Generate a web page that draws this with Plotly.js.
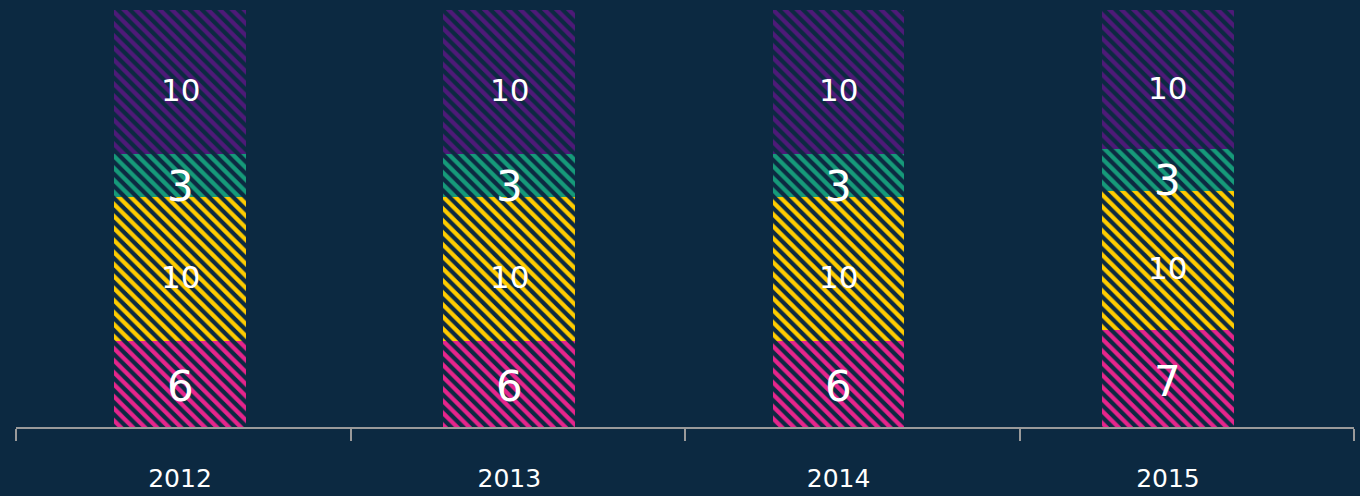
<!DOCTYPE html>
<html>
<head>
<meta charset="utf-8">
<script src="https://cdn.plot.ly/plotly-3.0.1.min.js"></script>
<style>
html,body{margin:0;padding:0;background:#0c2941;}
#chart{width:1360px;height:496px;}
</style>
</head>
<body>
<div id="chart"></div>
<script>
const years = ["2012", "2013", "2014", "2015"];
const xpos = [0, 1, 2, 3];
const pinkValues = [6, 6, 6, 7];
const yellowValues = [10, 10, 10, 10];
const tealValues = [3, 3, 3, 3];
const purpleValues = [10, 10, 10, 10];
const boundaryTicks = [0, 1, 2, 3, 4];

const BG = "#0c2941";
const FONT = "'DejaVu Sans', sans-serif";
const seriesDefs = [
  {vals: pinkValues, color: "#e6258c", size: 42, shift: -3},
  {vals: yellowValues, color: "#ffcc00", size: 31, shift: -8},
  {vals: tealValues, color: "#169a7a", size: 42, shift: -11},
  {vals: purpleValues, color: "#4e1a78", size: 31, shift: -8}
];

const traces = seriesDefs.map(s => ({
  type: "bar",
  x: xpos,
  y: s.vals,
  marker: {
    color: BG,
    line: {width: 0},
    pattern: {shape: "\\", fgcolor: s.color, bgcolor: BG, fgopacity: 1, size: 8.5, solidity: 0.5, fillmode: "replace"}
  },
  hoverinfo: "none",
  showlegend: false
}));

// empty trace so the boundary-tick axis gets drawn
traces.push({
  type: "scatter",
  x: [],
  y: [],
  xaxis: "x2",
  yaxis: "y",
  mode: "markers",
  hoverinfo: "skip",
  showlegend: false
});

// value labels at segment middles (in percent of each stacked bar)
const totals = xpos.map((_, i) => seriesDefs.reduce((a, s) => a + s.vals[i], 0));
const annotations = [];
const cum = xpos.map(() => 0);
seriesDefs.forEach(s => {
  xpos.forEach((x, i) => {
    const mid = (cum[i] + s.vals[i] / 2) / totals[i] * 100;
    annotations.push({
      x: x, y: mid, xref: "x", yref: "y",
      text: String(s.vals[i]),
      showarrow: false,
      yshift: s.shift,
      font: {family: FONT, size: s.size, color: "#ffffff"}
    });
    cum[i] += s.vals[i];
  });
});

const layout = {
  width: 1360,
  height: 496,
  paper_bgcolor: BG,
  plot_bgcolor: BG,
  barmode: "stack",
  barnorm: "percent",
  bargap: 0.6,
  margin: {l: 16, r: 6, t: 10, b: 69, pad: 0},
  annotations: annotations,
  xaxis: {
    range: [-0.498, 3.565],
    tickvals: xpos,
    ticktext: years,
    ticks: "",
    showline: false,
    showgrid: false,
    zeroline: false,
    ticklabelstandoff: 34,
    tickfont: {family: FONT, size: 25, color: "#ffffff"},
    fixedrange: true
  },
  xaxis2: {
    overlaying: "x",
    anchor: "y",
    side: "bottom",
    range: [0, 4],
    tickvals: boundaryTicks,
    ticks: "outside",
    ticklen: 12,
    tickwidth: 2,
    tickcolor: "#9a9a9a",
    showticklabels: false,
    showline: true,
    linecolor: "#9a9a9a",
    linewidth: 2,
    showgrid: false,
    zeroline: false
  },
  yaxis: {
    range: [0, 100],
    visible: false,
    showgrid: false,
    zeroline: false
  }
};

Plotly.newPlot("chart", traces, layout, {displayModeBar: false, staticPlot: true});
</script>
</body>
</html>
